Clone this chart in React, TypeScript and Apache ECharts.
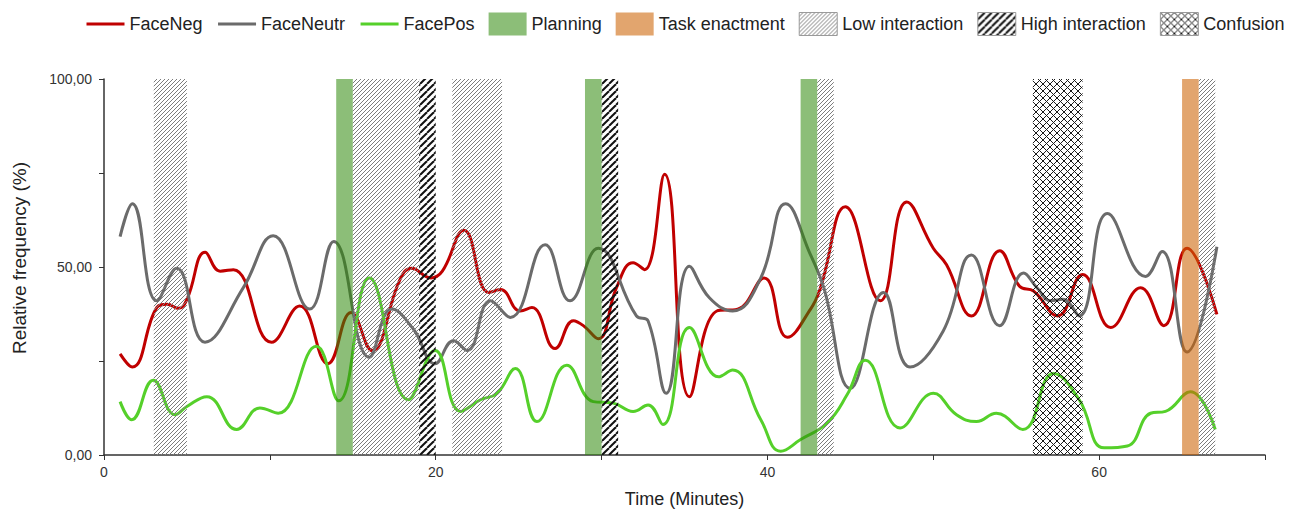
import React, { useEffect, useRef } from 'react';
import * as echarts from 'echarts';

// Time (minutes), relative frequency (%)
const faceNeg: [number, number][] = [
  [0.97, 26.9], [1.71, 23.4], [3.18, 39.2], [3.8, 40.1], [4.5, 39.0], [5.0, 41.4], [6.1, 53.9],
  [7.0, 48.9], [7.8, 49.3], [10.1, 30.0], [11.8, 39.6], [13.5, 24.3], [14.9, 37.9], [16.15, 27.8],
  [17.85, 46.7], [18.55, 49.7], [19.7, 47.1], [20.4, 48.9], [21.7, 59.8], [23.2, 43.2], [23.9, 44.0],
  [25.1, 38.3], [25.8, 39.2], [27.2, 28.3], [28.3, 35.7], [28.9, 34.4], [29.8, 30.9], [30.9, 44.5],
  [31.9, 51.1], [32.6, 49.3], [33.8, 74.7], [35.3, 15.5], [36.95, 38.3], [38.2, 38.8], [39.8, 47.1],
  [41.2, 31.3], [42.6, 38.8], [43.2, 44.5], [44.7, 66.0], [46.8, 41.0], [48.4, 67.3], [50.0, 55.0],
  [50.8, 50.6], [52.3, 37.0], [54.0, 54.3], [55.2, 44.9], [56.05, 43.6], [57.5, 37.0], [59.0, 48.0],
  [60.7, 33.9], [62.5, 44.5], [63.9, 34.4], [65.3, 55.0], [67.1, 37.4],
];

const faceNeutr: [number, number][] = [
  [0.97, 58.1], [1.71, 66.8], [3.18, 41.0], [4.38, 49.7], [6.09, 30.0], [8.4, 44.5], [10.2, 58.3],
  [12.4, 38.8], [13.85, 56.8], [16.0, 26.0], [17.35, 38.8], [18.65, 33.5], [19.96, 24.3], [21.07, 30.4],
  [21.9, 27.8], [23.3, 41.0], [24.5, 36.6], [26.6, 55.9], [28.1, 41.0], [29.8, 55.0], [32.1, 37.0],
  [32.8, 35.7], [33.9, 16.4], [35.3, 50.2], [36.5, 41.8], [37.9, 38.3], [39.6, 47.1], [41.1, 66.8],
  [42.6, 53.2], [43.4, 44.5], [45.0, 17.7], [47.0, 43.2], [48.6, 23.4], [50.6, 33.0], [52.3, 53.2],
  [54.0, 34.4], [55.45, 48.4], [56.25, 44.5], [57.1, 41.0], [57.8, 41.4], [58.8, 37.0], [60.5, 64.2],
  [62.8, 47.5], [63.8, 54.1], [65.3, 27.4], [67.1, 55.4],
];

const facePos: [number, number][] = [
  [0.97, 14.2], [1.67, 9.4], [2.97, 19.9], [4.28, 10.7], [5.0, 12.9], [6.2, 15.5], [8.0, 6.8],
  [9.4, 12.5], [10.5, 11.1], [12.8, 28.9], [14.15, 14.4], [16.0, 47.1], [18.35, 14.7], [19.96, 27.8],
  [21.5, 11.6], [22.7, 14.7], [23.7, 16.4], [24.8, 23.0], [26.1, 8.9], [27.9, 23.9], [29.5, 14.2],
  [30.7, 13.8], [31.9, 11.6], [32.8, 13.3], [33.7, 8.1], [35.3, 33.9], [37.05, 20.8], [37.9, 22.6],
  [39.6, 9.4], [40.8, 1.0], [42.0, 4.1], [43.6, 8.5], [44.8, 16.0], [45.9, 25.2], [48.0, 7.2],
  [50.0, 16.4], [51.4, 10.7], [52.6, 8.9], [53.8, 11.1], [55.4, 6.8], [57.25, 21.7], [58.8, 14.7],
  [60.3, 1.9], [61.7, 2.4], [63.1, 11.1], [64.0, 11.6], [65.5, 16.8], [67.0, 6.8],
];

// Phase bands: [start minute, end minute]
const planningBands: [number, number][] = [[14, 15], [29, 30], [42, 43]];
const taskBands: [number, number][] = [[65, 66]];
const lowBands: [number, number][] = [[3, 5], [15, 19], [21, 24], [43, 44], [66, 67]];
const highBands: [number, number][] = [[19, 20], [30, 31]];
const confusionBands: [number, number][] = [[56, 59]];

const xTicks = [0, 20, 40, 60];
const yTicks = [0, 50, 100];

const FONT = "Arial, 'Liberation Sans', sans-serif";

function hatch(size: number, color: string, width: number, cross: boolean) {
  const c = document.createElement('canvas');
  c.width = size;
  c.height = size;
  const ctx = c.getContext('2d')!;
  ctx.strokeStyle = color;
  ctx.lineWidth = width;
  const seg = (x0: number, y0: number, x1: number, y1: number) => {
    ctx.beginPath();
    ctx.moveTo(x0, y0);
    ctx.lineTo(x1, y1);
    ctx.stroke();
  };
  for (let k = -1; k <= 1; k++) {
    seg(k * size, size, k * size + size, 0);
    if (cross) seg(k * size, 0, k * size + size, size);
  }
  return { image: c, repeat: 'repeat' as const };
}

export default function App() {
  const ref = useRef<HTMLDivElement>(null);
  useEffect(() => {
    if (!ref.current) return;
    const chart = echarts.init(ref.current, undefined, { renderer: 'svg' });

    const lowFill = hatch(4, '#7c7c7c', 1, false);
    const highFill = hatch(7, '#111111', 2, false);
    const confFill = hatch(7, '#1a1a1a', 1, true);
    const planFill = 'rgba(46,137,10,0.55)';
    const taskFill = 'rgba(205,100,5,0.58)';

    const bandSeries = (name: string, bands: [number, number][], fill: any, z: number) => ({
      type: 'custom',
      name,
      z,
      silent: true,
      data: bands,
      encode: { x: [0, 1] },
      itemStyle: { color: fill },
      renderItem: (_p: any, api: any) => {
        const p0 = api.coord([api.value(0), 100]);
        const p1 = api.coord([api.value(1), 0]);
        return {
          type: 'rect',
          shape: { x: p0[0], y: p0[1], width: p1[0] - p0[0], height: p1[1] - p0[1] },
          style: { fill },
        };
      },
    });

    const lineSeries = (name: string, data: [number, number][], color: string) => ({
      type: 'line',
      name,
      data,
      smooth: 0.45,
      symbol: 'none',
      z: 2,
      lineStyle: { color, width: 3 },
      itemStyle: { color },
    });

    const iconBorder = { borderColor: '#9a9a9a', borderWidth: 1 };
    const noSymbol = { opacity: 0 };
    const thickLine = { width: 3 };

    chart.setOption({
      animation: false,
      legend: {
        left: 80,
        top: 7,
        itemWidth: 38,
        itemHeight: 23,
        itemGap: 14,
        textStyle: { fontSize: 18, color: '#222', fontFamily: FONT },
        data: [
          { name: 'FaceNeg', itemStyle: noSymbol, lineStyle: thickLine },
          { name: 'FaceNeutr', itemStyle: noSymbol, lineStyle: thickLine },
          { name: 'FacePos', itemStyle: noSymbol, lineStyle: thickLine },
          { name: 'Planning', icon: 'rect', itemStyle: { borderWidth: 0 } },
          { name: 'Task enactment', icon: 'rect', itemStyle: { borderWidth: 0 } },
          { name: 'Low interaction', icon: 'rect', itemStyle: iconBorder },
          { name: 'High interaction', icon: 'rect', itemStyle: iconBorder },
          { name: 'Confusion', icon: 'rect', itemStyle: iconBorder },
        ],
      },
      grid: { left: 104, top: 79, width: 1161, height: 380, containLabel: false },
      xAxis: {
        type: 'value',
        min: 0,
        max: 70,
        interval: 10,
        name: 'Time (Minutes)',
        nameLocation: 'middle',
        nameGap: 35,
        nameTextStyle: { fontSize: 18, color: '#222', fontFamily: FONT },
        axisLine: { show: true, lineStyle: { color: '#333', width: 1.5 } },
        axisTick: { show: true, length: 5, lineStyle: { color: '#333', width: 1 } },
        axisLabel: {
          fontSize: 14,
          color: '#333',
          fontFamily: FONT,
          margin: 10,
          formatter: (v: number) => (xTicks.includes(v) ? String(v) : ''),
        },
        splitLine: { show: false },
      },
      yAxis: {
        type: 'value',
        min: 0,
        max: 100,
        interval: 25,
        name: 'Relative frequency (%)',
        nameLocation: 'middle',
        nameGap: 75,
        nameTextStyle: { fontSize: 19, color: '#222', fontFamily: FONT, padding: [0, 0, 0, 18] },
        axisLine: { show: true, lineStyle: { color: '#333', width: 1.5 } },
        axisTick: { show: true, length: 5, lineStyle: { color: '#333', width: 1 } },
        axisLabel: {
          fontSize: 14,
          color: '#333',
          fontFamily: FONT,
          margin: 12,
          formatter: (v: number) => (yTicks.includes(v) ? v.toFixed(2).replace('.', ',') : ''),
        },
        splitLine: { show: false },
      },
      series: [
        lineSeries('FaceNeg', faceNeg, '#c00000'),
        lineSeries('FaceNeutr', faceNeutr, '#6b6b6b'),
        lineSeries('FacePos', facePos, '#55d02a'),
        bandSeries('Planning', planningBands, planFill, 4),
        bandSeries('Task enactment', taskBands, taskFill, 4),
        bandSeries('Low interaction', lowBands, lowFill, 3),
        bandSeries('High interaction', highBands, highFill, 3),
        bandSeries('Confusion', confusionBands, confFill, 3),
      ],
    });
    return () => chart.dispose();
  }, []);

  return (
    <div
      ref={ref}
      style={{ position: 'fixed', left: 0, top: 0, width: 1290, height: 513, background: '#fff' }}
    />
  );
}
